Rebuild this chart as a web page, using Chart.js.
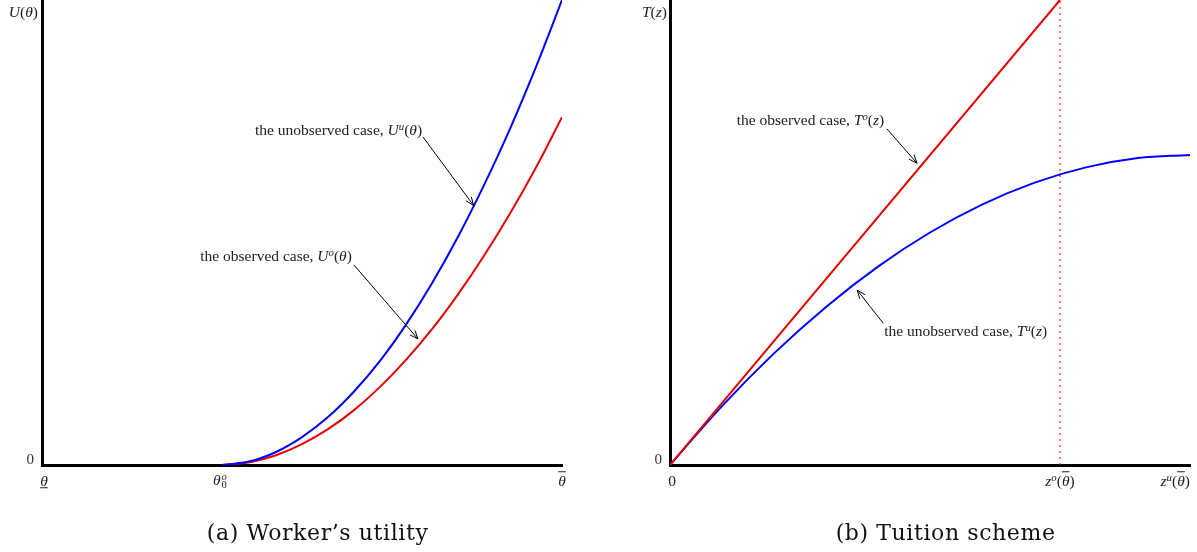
<!DOCTYPE html>
<html>
<head>
<meta charset="utf-8">
<script src="https://cdn.jsdelivr.net/npm/chart.js@4.4.1/dist/chart.umd.min.js"></script>
<style>
body{margin:0;background:#fff;width:1197px;height:552px;position:relative;overflow:hidden;font-family:"Liberation Serif",serif;color:#222}
.box{position:absolute;top:0;height:552px}
#boxA{left:0;width:598px}
#boxB{left:598px;width:599px}
.lbl{position:absolute;white-space:nowrap;font-size:15.5px;line-height:1}
.cap{position:absolute;white-space:nowrap;font-family:"DejaVu Serif",serif;font-size:22px;letter-spacing:0.6px;line-height:1;color:#111}
sup{font-size:70%;vertical-align:0.45em;line-height:0}
.ss{display:inline-block;font-size:68%;line-height:0.8;vertical-align:-0.3em;margin-left:1px}
.ov{text-decoration:overline}
</style>
</head>
<body>
<div class="box" id="boxA"><canvas id="chartA"></canvas></div>
<div class="box" id="boxB"><canvas id="chartB"></canvas></div>
<script>
// (a) 労働者の効用 U(θ)
var thetaX     = [34.6, 40, 45, 50, 55, 60, 65, 70, 75, 80, 85, 90, 95, 100];
var utilUnobs  = [0, 0.8, 2.8, 6.0, 10.3, 15.8, 22.4, 30.2, 39.1, 49.1, 60.2, 72.3, 85.6, 100];
var utilObs    = [0, 0.6, 2.1, 4.5, 7.7, 11.8, 16.8, 22.6, 29.2, 36.7, 45.0, 54.1, 64.0, 74.8];
var xTicksA    = [0, 34.6, 100];
var xTickTextA = ['<u><i>θ</i></u>', '<i>θ</i><span class="ss"><i>o</i><br>0</span>', '<i class="ov">θ</i>'];

// (b) 授業料 T(z)
var zUnobs       = [0, 10, 20, 30, 40, 50, 60, 70, 80, 90, 100];
var tuitionUnobs = [0, 12.67, 24.0, 34.0, 42.67, 50.0, 56.0, 60.67, 64.0, 66.0, 66.67];
var zObs         = [0, 75];
var tuitionObs   = [0, 100];
var zObsEnd      = 75;
var xTicksB      = [0, 75, 100];
var xTickTextB   = ['0', '<i>z<sup>o</sup></i>(<i class="ov">θ</i>)', '<i>z<sup>u</sup></i>(<i class="ov">θ</i>)'];

function pts(xs, ys) {
  return xs.map(function (x, i) { return {x: x, y: ys[i]}; });
}

// 矢印 [始点x, 始点y, 先端x, 先端y] (データ座標)
function arrows(list) {
  return {
    id: 'arrows',
    afterDatasetsDraw: function (chart) {
      var ctx = chart.ctx, sx = chart.scales.x, sy = chart.scales.y;
      list.forEach(function (a) {
        var x1 = sx.getPixelForValue(a[0]), y1 = sy.getPixelForValue(a[1]);
        var x2 = sx.getPixelForValue(a[2]), y2 = sy.getPixelForValue(a[3]);
        var ang = Math.atan2(y2 - y1, x2 - x1), h = 9;
        ctx.save();
        ctx.strokeStyle = '#000';
        ctx.lineWidth = 1;
        ctx.beginPath();
        ctx.moveTo(x1, y1); ctx.lineTo(x2, y2);
        ctx.moveTo(x2 - h * Math.cos(ang - 0.38), y2 - h * Math.sin(ang - 0.38));
        ctx.lineTo(x2, y2);
        ctx.lineTo(x2 - h * Math.cos(ang + 0.38), y2 - h * Math.sin(ang + 0.38));
        ctx.stroke();
        ctx.restore();
      });
    }
  };
}

function makeChart(id, datasets, yWidth, padRight, arrowList) {
  return new Chart(document.getElementById(id), {
    type: 'scatter',
    data: {datasets: datasets},
    options: {
      animation: false,
      responsive: true,
      maintainAspectRatio: false,
      layout: {padding: {top: 0, left: 0, bottom: 0, right: padRight}},
      plugins: {legend: {display: false}, tooltip: {enabled: false}},
      elements: {point: {radius: 0}},
      scales: {
        x: {
          type: 'linear', min: 0, max: 100,
          grid: {display: false, drawTicks: false},
          border: {color: '#000', width: 3},
          ticks: {display: false},
          afterFit: function (s) { s.height = 87; s.paddingLeft = 0; s.paddingRight = 0; }
        },
        y: {
          type: 'linear', min: 0, max: 100,
          grid: {display: false, drawTicks: false},
          border: {color: '#000', width: 3},
          afterBuildTicks: function (s) { s.ticks = [{value: 0}]; },
          ticks: {color: '#333', padding: 8, labelOffset: -5, font: {family: 'Liberation Serif', size: 15}},
          afterFit: function (s) { s.width = yWidth; s.paddingTop = 0; s.paddingBottom = 0; }
        }
      }
    },
    plugins: [arrows(arrowList)]
  });
}

var chartA = makeChart('chartA', [
  {data: pts(thetaX, utilUnobs), showLine: true, borderColor: '#0000ff', borderWidth: 2, tension: 0.4},
  {data: pts(thetaX, utilObs), showLine: true, borderColor: '#e60000', borderWidth: 2, tension: 0.4}
], 42, 36, [[73.3, 70.5, 83.0, 55.8], [60.0, 43.0, 72.3, 27.1]]);

var chartB = makeChart('chartB', [
  {data: pts(zObs, tuitionObs), showLine: true, borderColor: '#e60000', borderWidth: 2},
  {data: pts(zUnobs, tuitionUnobs), showLine: true, borderColor: '#0000ff', borderWidth: 2, tension: 0.4},
  {data: [{x: zObsEnd, y: 0}, {x: zObsEnd, y: 100}], showLine: true, borderColor: 'rgba(255,0,0,0.85)', borderWidth: 1.2, borderDash: [2, 4]}
], 72, 7, [[41.7, 72.3, 47.5, 64.9], [41.0, 30.5, 36.0, 37.6]]);

// テキストを置く (データ座標 + ピクセルずれ)
function put(boxId, chart, x, y, html, align, dx, dy, cls) {
  var el = document.createElement('div');
  el.className = cls || 'lbl';
  el.innerHTML = html;
  el.style.left = (chart.scales.x.getPixelForValue(x) + (dx || 0)) + 'px';
  el.style.top = (chart.scales.y.getPixelForValue(y) + (dy || 0)) + 'px';
  var tx = align === 'r' ? '-100%' : (align === 'l' ? '0' : '-50%');
  el.style.transform = 'translate(' + tx + ',-50%)';
  document.getElementById(boxId).appendChild(el);
}

// 左の図
put('boxA', chartA, 0, 100, '<i>U</i>(<i>θ</i>)', 'r', -4, 12, 'lbl');
xTicksA.forEach(function (v, i) {
  put('boxA', chartA, v, 0, xTickTextA[i], 'c', i === 0 ? 2 : (i === 1 ? -2 : 0), 16);
});
put('boxA', chartA, 73.1, 72.0, 'the unobserved case, <i>U</i><sup><i>u</i></sup>(<i>θ</i>)', 'r');
put('boxA', chartA, 59.6, 44.9, 'the observed case, <i>U</i><sup><i>o</i></sup>(<i>θ</i>)', 'r');
put('boxA', chartA, 53, 0, '(a) Worker’s utility', 'c', 0, 68, 'cap');

// 右の図
put('boxB', chartB, 0, 100, '<i>T</i>(<i>z</i>)', 'r', -3, 12, 'lbl');
xTicksB.forEach(function (v, i) {
  put('boxB', chartB, v, 0, xTickTextB[i], i === 2 ? 'r' : 'c', i === 0 ? 2 : 0, 16);
});
put('boxB', chartB, 41.2, 74.2, 'the observed case, <i>T</i><sup><i>o</i></sup>(<i>z</i>)', 'r');
put('boxB', chartB, 41.2, 28.8, 'the unobserved case, <i>T</i><sup><i>u</i></sup>(<i>z</i>)', 'l');
put('boxB', chartB, 53, 0, '(b) Tuition scheme', 'c', 0, 68, 'cap');
</script>
</body>
</html>
